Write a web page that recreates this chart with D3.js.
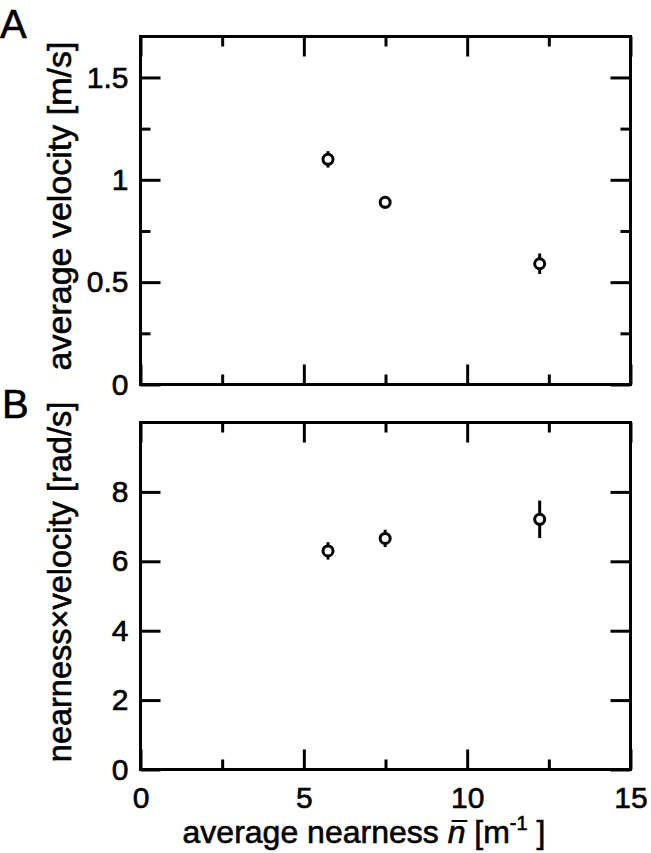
<!DOCTYPE html>
<html>
<head>
<meta charset="utf-8">
<script src="https://cdn.jsdelivr.net/npm/d3@7"></script>
<style>
  body { margin: 0; background: #fff; }
  svg { display: block; font-family: "Liberation Sans", Arial, sans-serif; }
  text { fill: #000; stroke: #000; stroke-width: 0.6px; }
  .tick text { font-size: 30px; }
</style>
</head>
<body>
<svg id="chart" width="651" height="853"></svg>
<script>
// Data
const nearness = [5.74, 7.49, 12.22];
const velocity = [1.10, 0.89, 0.59];
const velocityErr = [0.04, 0.03, 0.05];
const product = [6.30, 6.66, 7.21];
const productErr = [0.25, 0.25, 0.54];

const xMajor = [0, 5, 10, 15];
const xMinor = [2.5, 7.5, 12.5];
const yMajorA = [0, 0.5, 1, 1.5];
const yMinorA = [0.25, 0.75, 1.25];
const yMajorB = [0, 2, 4, 6, 8];

const svg = d3.select('#chart');
const left = 140.5, right = 630.5;

const x = d3.scaleLinear().domain([0, 15]).range([left, right]);

// Draw one panel
function drawPanel(top, bottom, yDomain, yMajor, yMinor, xs, ys, errs, showXLabels) {
    const y = d3.scaleLinear().domain(yDomain).range([bottom, top]);
    const g = svg.append('g');

    const fmt = d3.format('~g');

    // left axis, majors with labels
    g.append('g')
        .attr('transform', `translate(${left},0)`)
        .call(d3.axisLeft(y).tickValues(yMajor).tickSize(-20).tickPadding(12).tickFormat(fmt));
    // right axis, majors
    g.append('g')
        .attr('transform', `translate(${right},0)`)
        .call(d3.axisRight(y).tickValues(yMajor).tickSize(-20).tickFormat(''));
    if (yMinor.length) {
        g.append('g')
            .attr('transform', `translate(${left},0)`)
            .call(d3.axisLeft(y).tickValues(yMinor).tickSize(-10).tickFormat(''));
        g.append('g')
            .attr('transform', `translate(${right},0)`)
            .call(d3.axisRight(y).tickValues(yMinor).tickSize(-10).tickFormat(''));
    }

    // bottom and top x ticks
    g.append('g')
        .attr('transform', `translate(0,${bottom})`)
        .call(d3.axisBottom(x).tickValues(xMajor).tickSize(-20).tickPadding(17)
            .tickFormat(showXLabels ? fmt : ''));
    g.append('g')
        .attr('transform', `translate(0,${bottom})`)
        .call(d3.axisBottom(x).tickValues(xMinor).tickSize(-10).tickFormat(''));
    g.append('g')
        .attr('transform', `translate(0,${top})`)
        .call(d3.axisTop(x).tickValues(xMajor).tickSize(-20).tickFormat(''));
    g.append('g')
        .attr('transform', `translate(0,${top})`)
        .call(d3.axisTop(x).tickValues(xMinor).tickSize(-10).tickFormat(''));

    g.selectAll('.domain').remove();
    g.selectAll('.tick line').attr('stroke', '#000').attr('stroke-width', 3);
    g.selectAll('.tick text').attr('font-family', null).attr('font-size', null);

    // frame
    g.append('rect')
        .attr('x', left).attr('y', top)
        .attr('width', right - left).attr('height', bottom - top)
        .attr('fill', 'none').attr('stroke', '#000').attr('stroke-width', 3);

    // error bars
    g.selectAll('line.err')
        .data(xs)
        .enter()
        .append('line')
        .attr('class', 'err')
        .attr('x1', d => x(d)).attr('x2', d => x(d))
        .attr('y1', (d, i) => y(ys[i] - errs[i]))
        .attr('y2', (d, i) => y(ys[i] + errs[i]))
        .attr('stroke', '#000').attr('stroke-width', 3);

    // markers
    g.selectAll('circle.pt')
        .data(xs)
        .enter()
        .append('circle')
        .attr('class', 'pt')
        .attr('cx', d => x(d))
        .attr('cy', (d, i) => y(ys[i]))
        .attr('r', 5)
        .attr('fill', '#fff')
        .attr('stroke', '#000').attr('stroke-width', 3);
}

drawPanel(36.5, 384.5, [0, 1.7], yMajorA, yMinorA, nearness, velocity, velocityErr, false);
drawPanel(422.5, 769.5, [0, 10], yMajorB, [], nearness, product, productErr, true);

// panel letters
svg.append('text').attr('x', 0).attr('y', 38).attr('font-size', 40).text('A');
svg.append('text').attr('x', 2).attr('y', 418).attr('font-size', 40).text('B');

// y labels
svg.append('text')
    .attr('transform', 'translate(71,206) rotate(-90)')
    .attr('text-anchor', 'middle')
    .attr('font-size', 34)
    .text('average velocity [m/s]');
svg.append('text')
    .attr('transform', 'translate(71,582) rotate(-90)')
    .attr('text-anchor', 'middle')
    .attr('font-size', 32.5)
    .text('nearness\u00d7velocity [rad/s]');

// x label
const xl = svg.append('text')
    .attr('x', 364).attr('y', 843)
    .attr('text-anchor', 'middle')
    .attr('font-size', 32);
xl.append('tspan').text('average nearness ');
xl.append('tspan').attr('font-style', 'italic').text('n');
xl.append('tspan').text(' [m');
xl.append('tspan').attr('dy', -13).attr('font-size', 20).text('-1');
xl.append('tspan').attr('dy', 13).text(' ]');

// bar over the n
const nBox = xl.node().getExtentOfChar('average nearness '.length);
svg.append('line')
    .attr('x1', nBox.x + 4).attr('x2', nBox.x + nBox.width + 2)
    .attr('y1', 821).attr('y2', 821)
    .attr('stroke', '#000').attr('stroke-width', 2);
</script>
</body>
</html>
